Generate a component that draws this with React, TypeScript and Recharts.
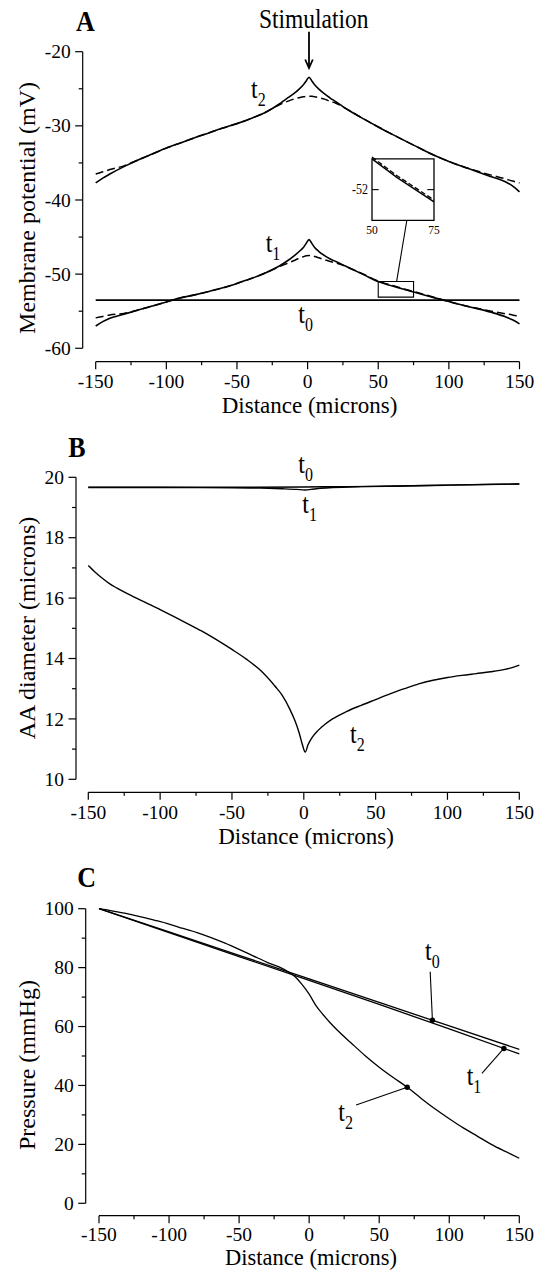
import React from 'react';
import { LineChart, Line, XAxis, YAxis, ReferenceLine, ReferenceArea, ReferenceDot } from 'recharts';

const FONT = '"Liberation Serif", "Times New Roman", Times, serif';
const SY = 1.14;

// ---------- Panel A : membrane potential ----------
const A_X = [-150, -145, -140, -130, -120, -110, -100, -90, -80, -70, -60, -50, -40, -30, -20, -15, -10, -6, -3, -1, 1, 3, 5, 8, 12, 16, 20, 25, 30, 40, 50, 60, 75, 90, 100, 110, 120, 130, 140, 145, 150];
const A_T2 = [-37.7, -37.05, -36.5, -35.5, -34.6, -33.8, -33.0, -32.3, -31.6, -30.95, -30.3, -29.7, -29.0, -28.2, -27.05, -26.35, -25.7, -25.05, -24.45, -23.95, -23.45, -23.95, -24.45, -25.05, -25.7, -26.25, -26.75, -27.4, -28.0, -29.1, -30.15, -31.15, -32.6, -34.0, -34.8, -35.5, -36.2, -36.85, -37.55, -38.1, -38.9];
const A_T2_DASH = [-36.5, -36.2, -35.9, -35.4, -34.6, -33.8, -33.0, -32.3, -31.6, -30.95, -30.3, -29.7, -29.0, -28.2, -27.15, -26.75, -26.4, -26.2, -26.07, -26.02, -26.0, -26.02, -26.07, -26.2, -26.4, -26.7, -26.95, -27.45, -28.0, -29.1, -30.15, -31.15, -32.6, -34.0, -34.8, -35.5, -36.1, -36.65, -37.15, -37.45, -37.7];
const A_T1 = [-57.0, -56.4, -55.95, -55.4, -54.85, -54.3, -53.75, -53.2, -52.8, -52.35, -51.85, -51.25, -50.6, -49.85, -48.9, -48.3, -47.6, -46.95, -46.4, -45.85, -45.35, -45.85, -46.4, -46.95, -47.5, -47.95, -48.3, -48.75, -49.2, -50.1, -51.0, -51.6, -52.4, -53.2, -53.7, -54.2, -54.65, -55.15, -55.75, -56.15, -56.7];
const A_T1_DASH = [-55.9, -55.7, -55.5, -55.3, -54.85, -54.3, -53.75, -53.2, -52.8, -52.35, -51.85, -51.25, -50.6, -49.85, -49.0, -48.6, -48.2, -47.85, -47.65, -47.53, -47.5, -47.53, -47.62, -47.8, -48.05, -48.3, -48.5, -48.8, -49.2, -50.05, -50.94, -51.54, -52.34, -53.15, -53.7, -54.2, -54.6, -55.0, -55.35, -55.5, -55.7];
const A_T0_X = [-150, 150];
const A_T0 = [-53.5, -53.5];
const A_XTICKS = [-150, -125, -100, -75, -50, -25, 0, 25, 50, 75, 100, 125, 150];
const A_YTICKS = [-60, -55, -50, -45, -40, -35, -30, -25, -20];
const INSET_X = [50, 75];
const INSET_Y = [-53, -51];
const INSET_YTICK = -52;
const ZOOM_BOX = { x1: 50, x2: 75, y1: -53.1, y2: -51 };

// ---------- Panel B : AA diameter ----------
const B_X = [-150, -145, -140, -135, -130, -120, -110, -100, -90, -80, -70, -60, -50, -40, -30, -20, -15, -10, -6, -3, -1, 1, 3, 6, 10, 15, 20, 30, 40, 50, 60, 70, 80, 90, 100, 110, 120, 130, 140, 145, 150];
const B_T2 = [17.08, 16.85, 16.65, 16.47, 16.33, 16.08, 15.85, 15.62, 15.38, 15.13, 14.88, 14.6, 14.3, 13.98, 13.6, 13.08, 12.78, 12.35, 11.92, 11.5, 11.15, 10.9, 11.15, 11.4, 11.62, 11.83, 12.0, 12.25, 12.45, 12.64, 12.83, 13.0, 13.16, 13.28, 13.37, 13.44, 13.5, 13.56, 13.64, 13.7, 13.78];
const B_T0_X = [-150, -100, -50, 0, 25, 50, 75, 100, 125, 150];
const B_T0 = [19.67, 19.67, 19.67, 19.68, 19.69, 19.7, 19.72, 19.74, 19.76, 19.78];
const B_T1_X = [-150, -100, -50, -30, -15, -5, 1, 5, 10, 20, 40, 60, 100, 150];
const B_T1 = [19.66, 19.66, 19.655, 19.64, 19.62, 19.6, 19.58, 19.6, 19.63, 19.66, 19.69, 19.705, 19.74, 19.78];
const B_XTICKS = A_XTICKS;
const B_YTICKS = [10, 11, 12, 13, 14, 15, 16, 17, 18, 19, 20];

// ---------- Panel C : pressure ----------
const C_X = [-150, -140, -130, -120, -110, -100, -90, -80, -70, -60, -50, -40, -30, -20, -15, -10, -5, 0, 5, 10, 15, 20, 30, 40, 50, 60, 70, 80, 90, 100, 110, 120, 130, 140, 150];
const C_T2 = [100, 99.2, 98.3, 97.2, 96.05, 94.8, 93.3, 91.9, 90.2, 88.3, 86.2, 84.0, 81.8, 79.9, 78.6, 76.9, 74.2, 71.0, 67.0, 64.0, 61.3, 58.8, 54.4, 50.1, 46.2, 42.7, 39.4, 35.6, 32.0, 28.7, 25.6, 22.8, 20.0, 17.6, 15.3];
const C_T01_X = [-150, -100, -50, 0, 50, 100, 150];
const C_T0 = [100, 92.1, 84.15, 76.2, 68.2, 60.2, 52.25];
const C_T1 = [100, 91.85, 83.75, 75.65, 67.5, 59.2, 50.7];
const C_DOTS = [{ x: 88, y: 62.12 }, { x: 139, y: 52.57 }, { x: 70, y: 39.4 }];
const C_LEADER_FROM = [{ x: 86.4, y: 78.6 }, { x: 123.3, y: 44.1 }, { x: 33.5, y: 33.4 }];
const C_XTICKS = A_XTICKS;
const C_YTICKS = [0, 10, 20, 30, 40, 50, 60, 70, 80, 90, 100];

const zip = (xs: number[], ys: number[]) => xs.map((x, i) => ({ x, y: ys[i] }));

const TICK_FS = 19.5;

function xTick(majorEvery: number, labelOffset: number) {
  return (props: any) => {
    const { x, y, payload } = props;
    const v = Number(payload.value);
    const major = Math.abs(v % majorEvery) < 1e-9;
    return (
      <g>
        <line x1={x} x2={x} y1={y} y2={y + (major ? 7.5 : 3.5)} stroke="#000" strokeWidth={1.2} />
        {major ? (
          <text x={x} y={y + labelOffset} textAnchor="middle" fontFamily={FONT} fontSize={TICK_FS} fill="#000">
            {String(v)}
          </text>
        ) : null}
      </g>
    );
  };
}

function yTick(majorEvery: number) {
  return (props: any) => {
    const { x, y, payload } = props;
    const v = Number(payload.value);
    const major = Math.abs(v % majorEvery) < 1e-9;
    return (
      <g>
        <line x1={x - (major ? 7.5 : 4)} x2={x} y1={y} y2={y} stroke="#000" strokeWidth={1.2} />
        {major ? (
          <text x={x - 12} y={y + 6.6} textAnchor="end" fontFamily={FONT} fontSize={TICK_FS} fill="#000">
            {String(v)}
          </text>
        ) : null}
      </g>
    );
  };
}

const axisCommon = {
  type: 'number' as const,
  tickSize: 0,
  tickMargin: 0,
  axisLine: false,
  tickLine: false,
  interval: 0 as const,
};

// Layout (domains include the gaps between offset axes and data)
const A_DOM_X = [-159.2, 150];
const A_DOM_Y = [-61.81, -20];
const B_DOM_X = [-158.56, 150];
const B_DOM_Y = [9.57, 20];
const C_DOM_X = [-159.49, 150];
const C_DOM_Y = [-4.21, 100];

function Sub({ x, y, s }: { x: number; y: number; s: string }) {
  return (
    <text transform={`translate(${x},${y}) scale(1,${SY})`} fontFamily={FONT} fontSize={24} fill="#000">
      t<tspan fontSize={16} dy={7}>{s}</tspan>
    </text>
  );
}

function HText({ x, y, size, anchor, bold, sy, children }: any) {
  return (
    <text transform={`translate(${x},${y}) scale(1,${sy ?? SY})`} textAnchor={anchor || 'middle'} fontFamily={FONT} fontSize={size} fontWeight={bold ? 'bold' : 'normal'} fill="#000">
      {children}
    </text>
  );
}

function VText({ x, y, children }: any) {
  return (
    <text transform={`translate(${x},${y}) rotate(-90)`} textAnchor="middle" fontFamily={FONT} fontSize={24} fill="#000">
      {children}
    </text>
  );
}

export default function App() {
  const insetT1 = zip(A_X, A_T1).filter((p) => p.x >= INSET_X[0] && p.x <= INSET_X[1]);
  const insetT1d = zip(A_X, A_T1_DASH).filter((p) => p.x >= INSET_X[0] && p.x <= INSET_X[1]);
  return (
    <div style={{ position: 'absolute', left: 0, top: 0, width: 540, height: 1270, background: '#fff', overflow: 'hidden' }}>
      {/* Panel A */}
      <div style={{ position: 'absolute', left: 0, top: 0 }}>
        <LineChart width={540} height={430} margin={{ top: 51.7, right: 20.5, bottom: 28.3, left: 22.7 }}>
          <XAxis dataKey="x" {...axisCommon} domain={A_DOM_X} ticks={A_XTICKS} height={40} tick={xTick(50, 26.5)} />
          <YAxis {...axisCommon} domain={A_DOM_Y} ticks={A_YTICKS} width={60} tick={yTick(10)} />
          <ReferenceLine segment={[{ x: -150, y: A_DOM_Y[0] }, { x: 150, y: A_DOM_Y[0] }]} stroke="#000" strokeWidth={1.2} ifOverflow="visible" />
          <ReferenceLine segment={[{ x: A_DOM_X[0], y: -60 }, { x: A_DOM_X[0], y: -20 }]} stroke="#000" strokeWidth={1.2} ifOverflow="visible" />
          <Line data={zip(A_T0_X, A_T0)} dataKey="y" type="linear" stroke="#000" strokeWidth={1.7} dot={false} isAnimationActive={false} />
          <Line data={zip(A_X, A_T1_DASH)} dataKey="y" type="monotone" stroke="#000" strokeWidth={1.5} strokeDasharray="8 4" dot={false} isAnimationActive={false} />
          <Line data={zip(A_X, A_T1)} dataKey="y" type="monotone" stroke="#000" strokeWidth={1.6} dot={false} isAnimationActive={false} />
          <Line data={zip(A_X, A_T2_DASH)} dataKey="y" type="monotone" stroke="#000" strokeWidth={1.5} strokeDasharray="8 4" dot={false} isAnimationActive={false} />
          <Line data={zip(A_X, A_T2)} dataKey="y" type="monotone" stroke="#000" strokeWidth={1.6} dot={false} isAnimationActive={false} />
          <ReferenceArea x1={ZOOM_BOX.x1} x2={ZOOM_BOX.x2} y1={ZOOM_BOX.y1} y2={ZOOM_BOX.y2} fill="none" fillOpacity={0} stroke="#000" strokeWidth={1.1} ifOverflow="visible" />
          <ReferenceLine segment={[{ x: 63, y: -51 }, { x: 70.2, y: -42.8 }]} stroke="#000" strokeWidth={1.1} ifOverflow="visible" />
        </LineChart>
      </div>

      {/* Inset */}
      <div style={{ position: 'absolute', left: 368, top: 153.3, background: 'transparent' }}>
        <LineChart width={70} height={71.4} margin={{ top: 4, right: 4, bottom: 4, left: 4 }}>
          <XAxis dataKey="x" type="number" domain={INSET_X} hide />
          <YAxis type="number" domain={INSET_Y} hide />
          <ReferenceArea x1={INSET_X[0]} x2={INSET_X[1]} y1={INSET_Y[0]} y2={INSET_Y[1]} fill="#fff" fillOpacity={1} stroke="#000" strokeWidth={1.3} ifOverflow="visible" />
          <ReferenceLine segment={[{ x: 50, y: INSET_YTICK }, { x: 52.7, y: INSET_YTICK }]} stroke="#000" strokeWidth={1.1} ifOverflow="visible" />
          <ReferenceLine segment={[{ x: 72.3, y: INSET_YTICK }, { x: 75, y: INSET_YTICK }]} stroke="#000" strokeWidth={1.1} ifOverflow="visible" />
          <Line data={insetT1d} dataKey="y" type="linear" stroke="#000" strokeWidth={1.3} strokeDasharray="5 2.5" dot={false} isAnimationActive={false} />
          <Line data={insetT1} dataKey="y" type="linear" stroke="#000" strokeWidth={1.4} dot={false} isAnimationActive={false} />
        </LineChart>
      </div>

      {/* Panel B */}
      <div style={{ position: 'absolute', left: 0, top: 430 }}>
        <LineChart width={540} height={430} margin={{ top: 47.3, right: 20.7, bottom: 27.7, left: 16 }}>
          <XAxis dataKey="x" {...axisCommon} domain={B_DOM_X} ticks={B_XTICKS} height={40} tick={xTick(50, 26.5)} />
          <YAxis {...axisCommon} domain={B_DOM_Y} ticks={B_YTICKS} width={60} tick={yTick(2)} />
          <ReferenceLine segment={[{ x: -150, y: B_DOM_Y[0] }, { x: 150, y: B_DOM_Y[0] }]} stroke="#000" strokeWidth={1.2} ifOverflow="visible" />
          <ReferenceLine segment={[{ x: B_DOM_X[0], y: 10 }, { x: B_DOM_X[0], y: 20 }]} stroke="#000" strokeWidth={1.2} ifOverflow="visible" />
          <Line data={zip(B_T0_X, B_T0)} dataKey="y" type="monotone" stroke="#000" strokeWidth={1.4} dot={false} isAnimationActive={false} />
          <Line data={zip(B_T1_X, B_T1)} dataKey="y" type="monotone" stroke="#000" strokeWidth={1.4} dot={false} isAnimationActive={false} />
          <Line data={zip(B_X, B_T2)} dataKey="y" type="monotone" stroke="#000" strokeWidth={1.4} dot={false} isAnimationActive={false} />
        </LineChart>
      </div>

      {/* Panel C */}
      <div style={{ position: 'absolute', left: 0, top: 860 }}>
        <LineChart width={540} height={410} margin={{ top: 48.7, right: 20.7, bottom: 14.3, left: 25.7 }}>
          <XAxis dataKey="x" {...axisCommon} domain={C_DOM_X} ticks={C_XTICKS} height={40} tick={xTick(50, 25)} />
          <YAxis {...axisCommon} domain={C_DOM_Y} ticks={C_YTICKS} width={60} tick={yTick(20)} />
          <ReferenceLine segment={[{ x: -150, y: C_DOM_Y[0] }, { x: 150, y: C_DOM_Y[0] }]} stroke="#000" strokeWidth={1.2} ifOverflow="visible" />
          <ReferenceLine segment={[{ x: C_DOM_X[0], y: 0 }, { x: C_DOM_X[0], y: 100 }]} stroke="#000" strokeWidth={1.2} ifOverflow="visible" />
          <Line data={zip(C_T01_X, C_T0)} dataKey="y" type="linear" stroke="#000" strokeWidth={1.3} dot={false} isAnimationActive={false} />
          <Line data={zip(C_T01_X, C_T1)} dataKey="y" type="linear" stroke="#000" strokeWidth={1.3} dot={false} isAnimationActive={false} />
          <Line data={zip(C_X, C_T2)} dataKey="y" type="monotone" stroke="#000" strokeWidth={1.3} dot={false} isAnimationActive={false} />
          {C_DOTS.map((d, i) => (
            <ReferenceLine key={'l' + i} segment={[C_LEADER_FROM[i], d]} stroke="#000" strokeWidth={1.1} ifOverflow="visible" />
          ))}
          {C_DOTS.map((d, i) => (
            <ReferenceDot key={'d' + i} x={d.x} y={d.y} r={2.7} fill="#000" stroke="none" ifOverflow="visible" />
          ))}
        </LineChart>
      </div>

      {/* Annotations */}
      <svg width={540} height={1270} style={{ position: 'absolute', left: 0, top: 0, pointerEvents: 'none' }}>
        <HText x={76} y={31} size={26} anchor="start" bold>A</HText>
        <HText x={68.3} y={456.7} size={26} anchor="start" bold>B</HText>
        <HText x={77.3} y={886.7} size={26} anchor="start" bold>C</HText>

        <HText x={313.7} y={28} size={23.5}>Stimulation</HText>
        <line x1={309} y1={31.7} x2={309} y2={67.5} stroke="#000" strokeWidth={1.8} />
        <polyline points="305.2,59.5 309,68 312.8,59.5" fill="none" stroke="#000" strokeWidth={1.8} />

        <VText x={35} y={208}>Membrane potential (mV)</VText>
        <VText x={35} y={628}>AA diameter (microns)</VText>
        <VText x={35} y={1065}>Pressure (mmHg)</VText>

        <HText x={309.5} y={413} size={23} sy={1}>Distance (microns)</HText>
        <HText x={306} y={843.5} size={23} sy={1}>Distance (microns)</HText>
        <HText x={311} y={1264.6} size={22.5} sy={1}>Distance (microns)</HText>

        <Sub x={251} y={98.3} s="2" />
        <Sub x={265.7} y={251.7} s="1" />
        <Sub x={298.3} y={323.3} s="0" />

        <Sub x={298.3} y={473.3} s="0" />
        <Sub x={302.3} y={513.3} s="1" />
        <Sub x={350} y={743.3} s="2" />

        <Sub x={425} y={960} s="0" />
        <Sub x={466.7} y={1085} s="1" />
        <Sub x={338.3} y={1120.7} s="2" />

        <HText x={368} y={193.5} size={12} anchor="end">-52</HText>
        <HText x={372} y={234} size={11.5}>50</HText>
        <HText x={434} y={234} size={11.5}>75</HText>
      </svg>
    </div>
  );
}
